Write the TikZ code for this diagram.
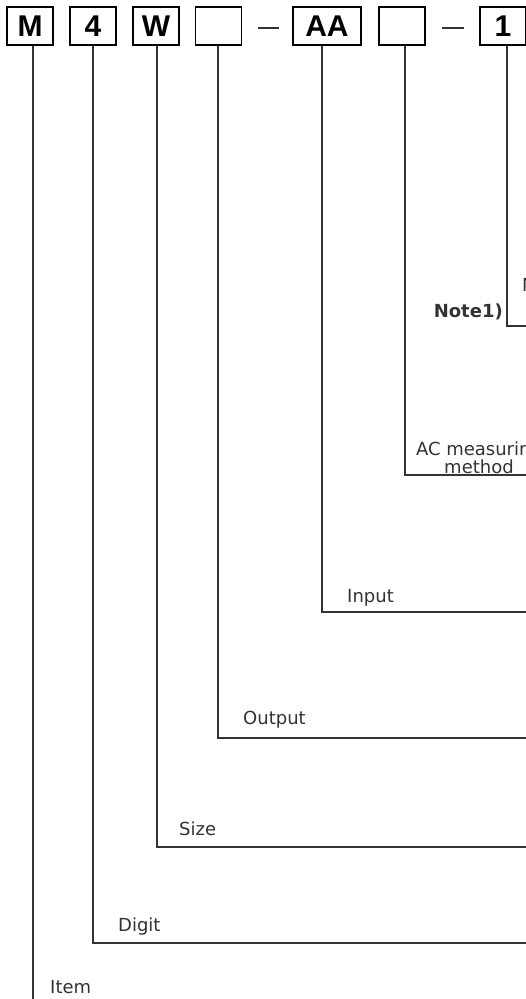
\documentclass[tikz,border=0pt]{standalone}
\usepackage{fontspec}
\setmainfont{DejaVu Sans}
\newfontfamily\boxfont{Liberation Sans}
\definecolor{ink}{HTML}{333333}
\begin{document}
\begin{tikzpicture}[x=1pt,y=-1pt,
  codebox/.style={draw=black,line width=1.9pt,minimum width=46pt,minimum height=38pt,inner sep=0pt,font=\boxfont\bfseries\fontsize{30}{30}\selectfont},
  lead/.style={draw=ink,line width=1.4pt},
  dashbar/.style={draw=ink,line width=2pt},
  lbl/.style={anchor=base west,inner sep=0pt,font=\fontsize{18}{20}\selectfont,text=ink}]
\useasboundingbox (0,0) rectangle (526,999);
\clip (0,0) rectangle (526,999);
% code boxes
\node[codebox] (bM) at (30,26) {M};
\node[codebox] (b4) at (93,26) {4};
\node[codebox] (bW) at (156,26) {W};
\node[codebox] (bE1) at (218.5,26) {};
\node[codebox,minimum width=68pt] (bAA) at (327,26) {AA};
\node[codebox] (bE2) at (402,26) {};
\node[codebox] (b1) at (503,26) {1};
\draw[dashbar] (258,28) -- (279,28);
\draw[dashbar] (442,28) -- (464,28);
% corner and end coordinates
\coordinate (kM) at (33,1005);
\coordinate (k4) at (93,943);   \coordinate (e4) at (530,943);
\coordinate (kW) at (157,847);  \coordinate (eW) at (530,847);
\coordinate (kE1) at (218,738); \coordinate (eE1) at (530,738);
\coordinate (kAA) at (322,612); \coordinate (eAA) at (530,612);
\coordinate (kE2) at (405,475); \coordinate (eE2) at (530,475);
\coordinate (k1) at (507,326);  \coordinate (e1) at (530,326);
% leaders
\draw[lead] (bM.south -| kM) -- (kM);
\draw[lead] (b4.south -| k4) -- (k4) -- (e4);
\draw[lead] (bW.south -| kW) -- (kW) -- (eW);
\draw[lead] (bE1.south -| kE1) -- (kE1) -- (eE1);
\draw[lead] (bAA.south -| kAA) -- (kAA) -- (eAA);
\draw[lead] (bE2.south -| kE2) -- (kE2) -- (eE2);
\draw[lead] (b1.south -| k1) -- (k1) -- (e1);
% labels
\node[lbl] (tItem) at (50,993) {Item};
\node[lbl] (tDigit) at (118,931) {Digit};
\node[lbl] (tSize) at (179,835) {Size};
\node[lbl] (tOut) at (243,724) {Output};
\node[lbl] (tIn) at (347,602) {Input};
\node[anchor=south,align=center,inner sep=0pt,font=\fontsize{18}{17}\selectfont,text=ink] (tAC) at (479,474) {AC measuring\\method};
\node[anchor=base east,inner sep=0pt,font=\bfseries\fontsize{18}{20}\selectfont,text=ink] (tNote) at (503,317) {Note1)};
\node[lbl] (tN) at (522,291) {N};
\end{tikzpicture}
\end{document}
